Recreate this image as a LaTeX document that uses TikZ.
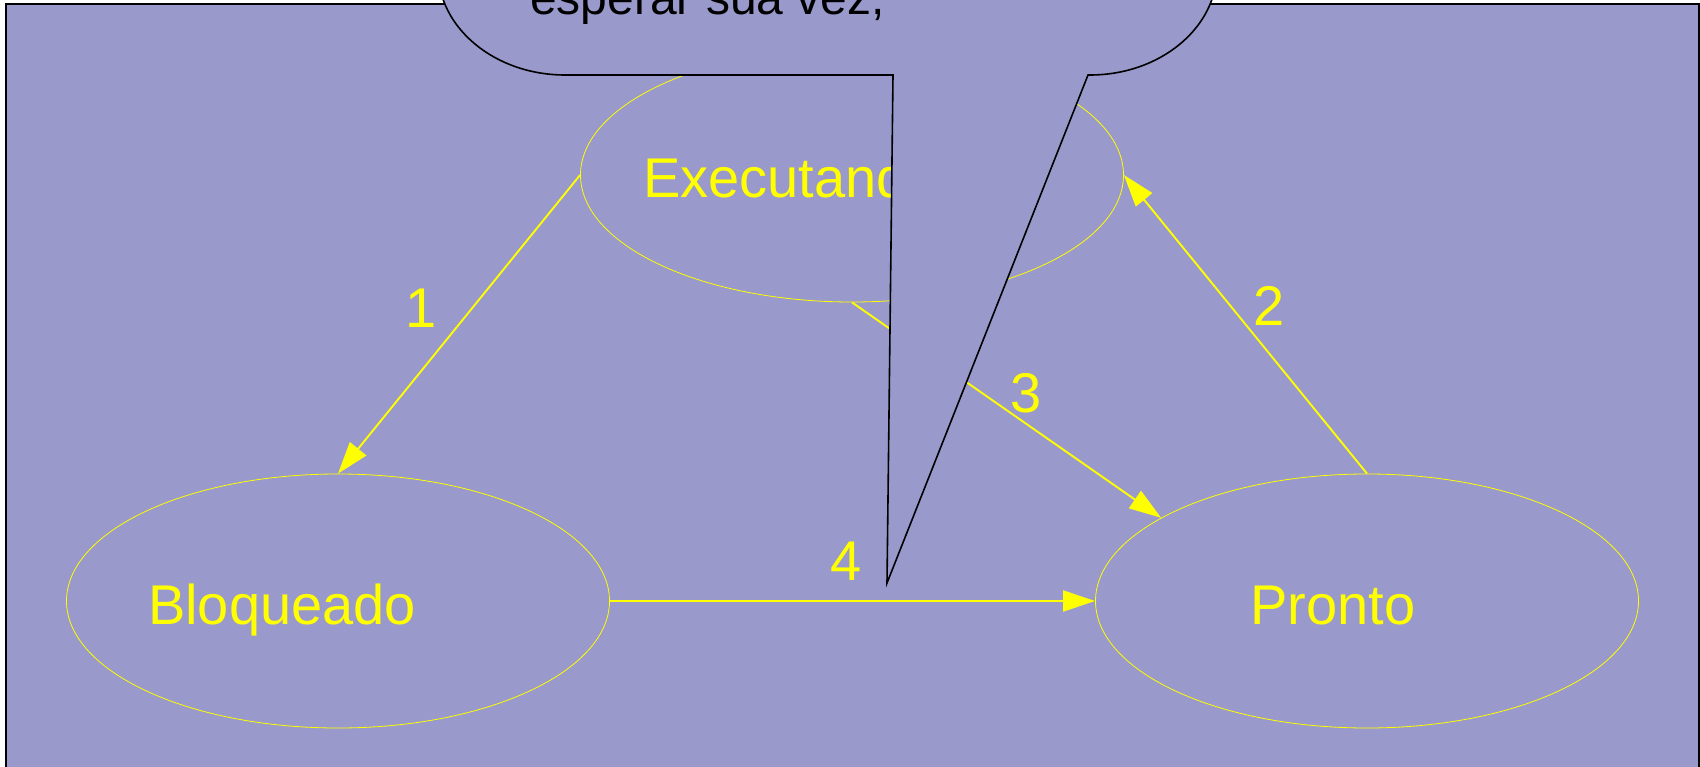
\documentclass[tikz,border=0pt]{standalone}
\usepackage{fontspec}
\setmainfont{Liberation Sans}
\usetikzlibrary{arrows.meta,shapes.geometric}
\definecolor{bgc}{HTML}{9999CC}
\definecolor{yel}{HTML}{FFFF00}
\begin{document}
\begin{tikzpicture}[x=1pt,y=-1pt,
  state/.style={draw=yel, line width=0.8pt, ellipse, minimum width=543pt, minimum height=254pt, inner sep=0pt},
  statetext/.style={text=yel, font=\fontsize{56}{60}\selectfont, anchor=base west, inner sep=0pt},
  numlabel/.style={text=yel, font=\fontsize{56}{60}\selectfont, anchor=base, inner sep=0pt},
  trans/.style={draw=yel, line width=1.9pt, -{Triangle[length=32pt,width=21pt]}},
  callout/.style={draw=black, line width=1.6pt, fill=bgc, line join=miter},
  callouttext/.style={text=black, font=\fontsize{48}{52}\selectfont, anchor=base west, inner sep=0pt}
]
\useasboundingbox (0,0) rectangle (1700,767);
\clip (0,0) rectangle (1700,767);
\fill[white] (0,0) rectangle (1700,767);
\draw[fill=bgc, draw=black, line width=1.2pt] (6,4) rectangle (1699,800);

\node[state] (E) at (852,175) {};
\node[state] (B) at (338,601) {};
\node[state] (P) at (1367,601) {};
\node[statetext] (Et) at (643,198) {Executando};
\node[statetext] (Bt) at (148,624) {Bloqueado};
\node[statetext] (Pt) at (1250,624) {Pronto};

\draw[trans] (E.west) -- (B.north);
\draw[trans] (P.north) -- (E.east);
\draw[trans] (E.south) -- (P.158);
\draw[trans] (B.east) -- (P.west);

\node[numlabel] (l1) at (421,327) {1};
\node[numlabel] (l2) at (1269,326) {2};
\node[numlabel] (l3) at (1026,412) {3};
\node[numlabel] (l4) at (846,580) {4};

\coordinate (tip) at (887,583);
\draw[callout] (438,-300) -- (438,-30) .. controls (438,28) and (495,75) .. (565,75) -- (893,75) -- (tip) -- (1088,75) -- (1090,75) .. controls (1160,75) and (1217,28) .. (1217,-30) -- (1217,-300) -- cycle;
\node[callouttext] (ct) at (530,15) {esperar sua vez,};
\end{tikzpicture}
\end{document}
